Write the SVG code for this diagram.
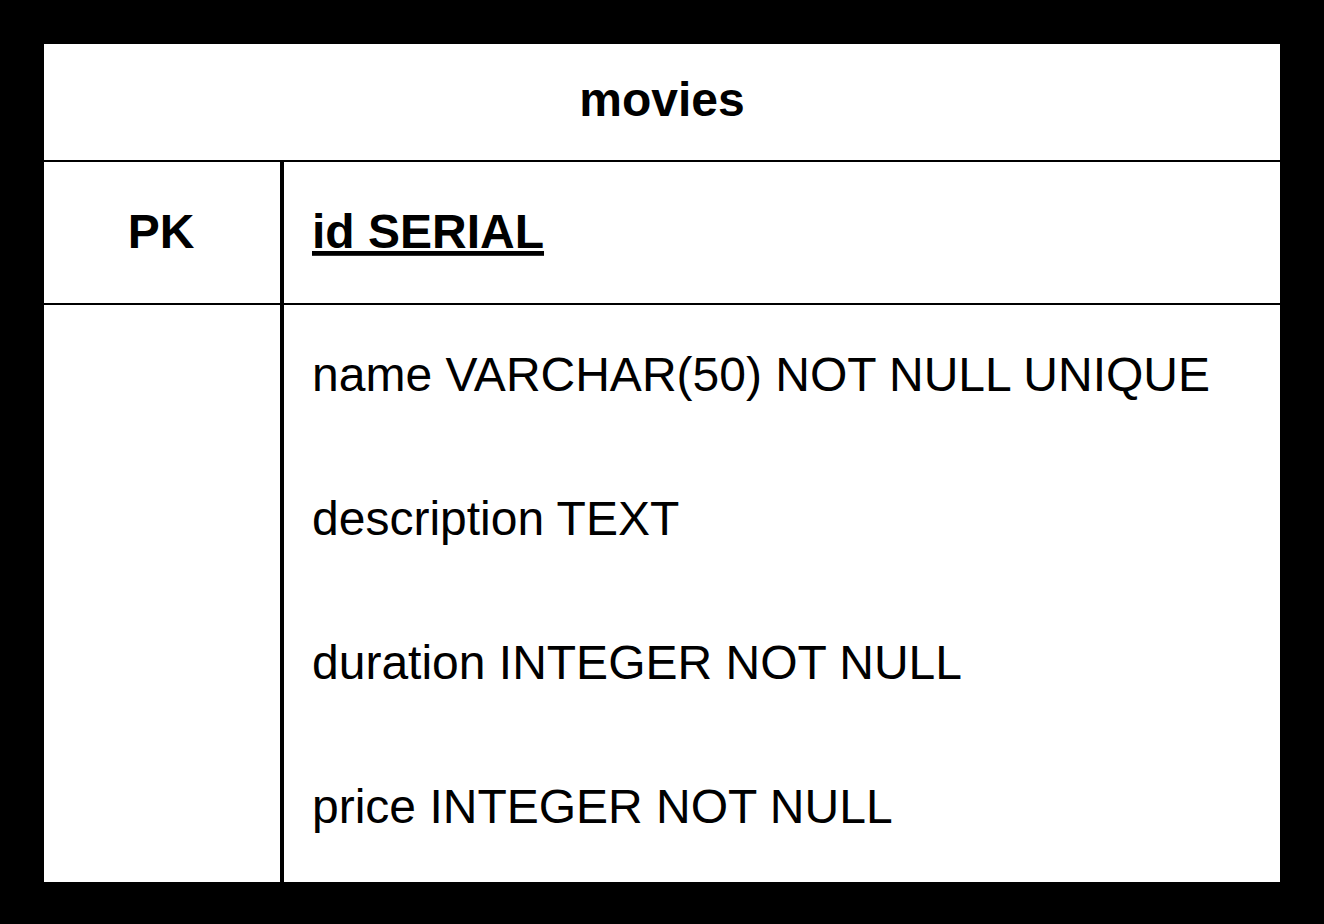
<svg xmlns="http://www.w3.org/2000/svg" width="1324" height="924" viewBox="0 0 1324 924">
<style>
.t{font-family:"Liberation Sans",Arial,sans-serif;font-size:48px;fill:#000}
.b{font-weight:bold}
.ln{stroke:#000;fill:none}
</style>
<rect x="0" y="0" width="1324" height="924" fill="#000"/>
<g id="movies">
<rect x="44" y="44" width="1236" height="838" fill="#fff"/>
<text class="t b" x="662" y="116" text-anchor="middle">movies</text>
</g>
<g id="connectors">
<line class="ln" x1="44" y1="161" x2="1280" y2="161" stroke-width="2"/>
<line class="ln" x1="44" y1="304" x2="1280" y2="304" stroke-width="2"/>
<line class="ln" x1="282" y1="161" x2="282" y2="882" stroke-width="4"/>
</g>
<g id="pk-row">
<text class="t b" x="161" y="248" text-anchor="middle">PK</text>
<text class="t b" x="312" y="248" text-decoration="underline">id SERIAL</text>
</g>
<g id="fields">
<text class="t" x="312" y="391">name VARCHAR(50) NOT NULL UNIQUE</text>
<text class="t" x="312" y="535">description TEXT</text>
<text class="t" x="312" y="679">duration INTEGER NOT NULL</text>
<text class="t" x="312" y="823">price INTEGER NOT NULL</text>
</g>
</svg>
